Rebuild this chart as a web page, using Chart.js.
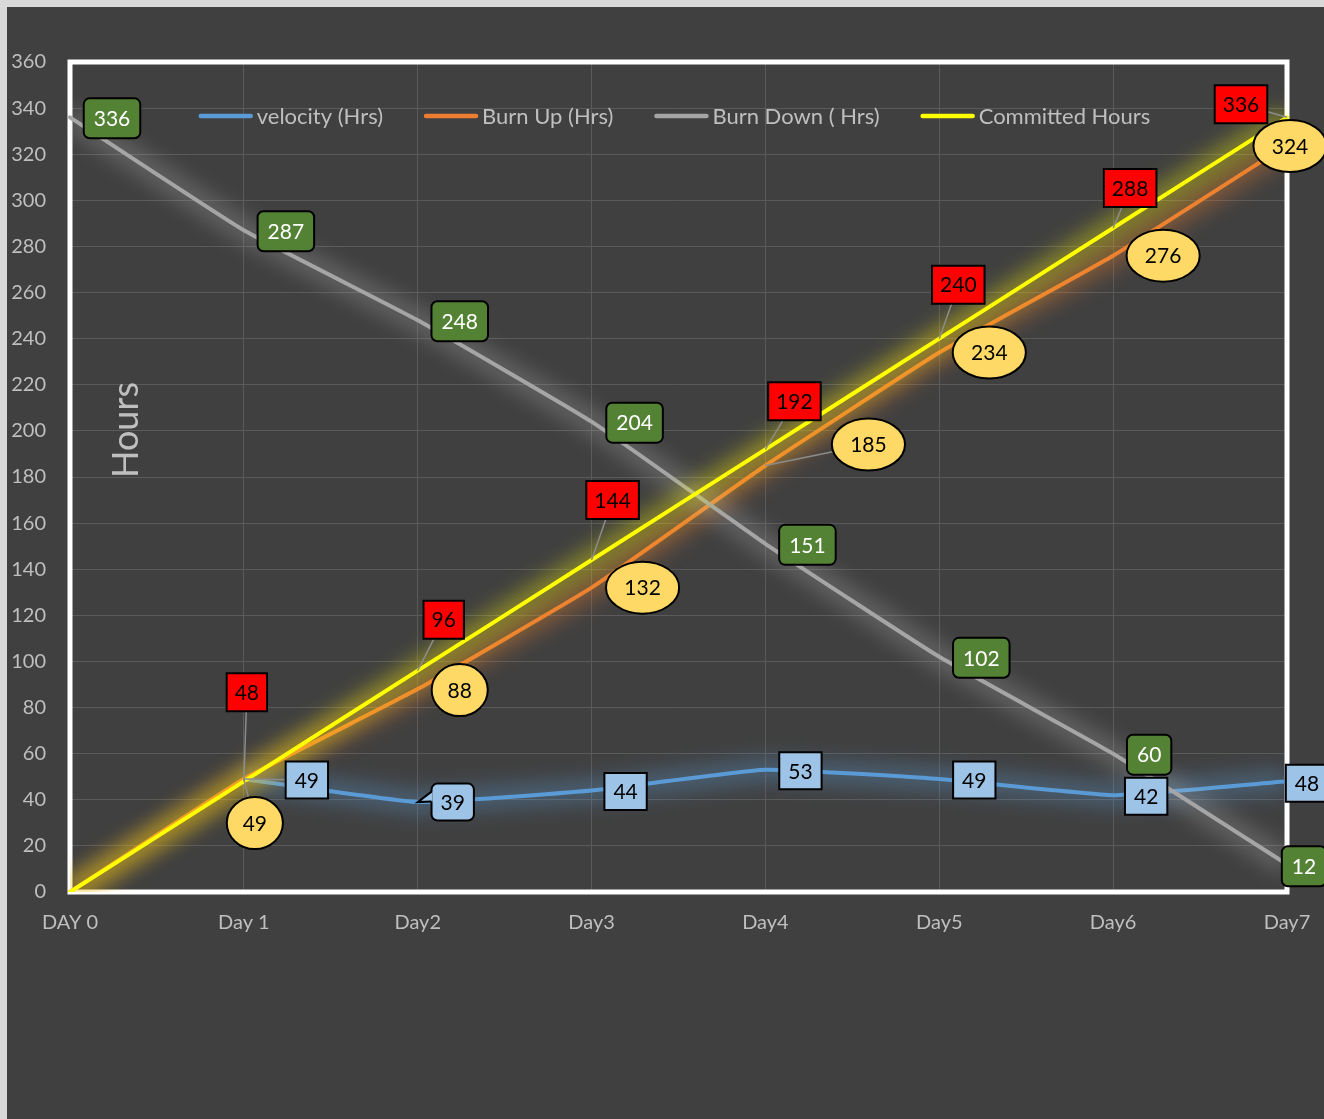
<!DOCTYPE html>
<html lang="en">
<head>
<meta charset="utf-8">
<title>Burn Up / Burn Down</title>
<script src="https://cdn.jsdelivr.net/npm/chart.js@4.4.1/dist/chart.umd.min.js"></script>
<style>
  html, body { margin: 0; padding: 0; background: #d9d9d9; overflow: hidden; }
  #marco { position: absolute; left: 7px; top: 7px; width: 1317px; height: 1112px; background: #404040; }
  canvas { display: block; }
</style>
</head>
<body>
<div id="marco"><canvas id="grafico" width="1317" height="1112"></canvas></div>
<script>
// --- Datos ---
const dias = ["DAY 0", "Day 1", "Day2", "Day3", "Day4", "Day5", "Day6", "Day7"];
const velocidad = [null, 49, 39, 44, 53, 49, 42, 48];
const burnUp = [0, 49, 88, 132, 185, 234, 276, 324];
const burnDown = [336, 287, 248, 204, 151, 102, 60, 12];
const comprometidas = [0, 48, 96, 144, 192, 240, 288, 336];

// Eje Y
const yMin = 0;
const yMax = 360;
const yPaso = 20;

const nombres = ["velocity (Hrs)", "Burn Up (Hrs)", "Burn Down ( Hrs)", "Committed Hours"];

// Desplazamiento de cada etiqueta respecto de su punto (px)
const despVelocidad = [null, [63, 1], [35, 0], [34, 1], [35, 1], [35, 1], [33, 1], [20, 2]];
const despBurnUp = [null, [11, 44], [42, 1], [51, 0], [103, -21], [50, 0], [50, 0], [3, 1]];
const despBurnDown = [[42, 1], [42, 1], [42, 1], [43, 1], [42, 1], [42, 1], [36, 1], [17, 2]];
const despComprometidas = [null, [3, -89], [26, -51], [21, -60], [29, -48], [19, -54], [17, -40], [-46, -13]];

const FUENTE = "Lato, 'Noto Sans', sans-serif";
const GRIS_TEXTO = "#bfbfbf";

// --- Plugins propios ---
const pluginMarco = {
  id: "marco",
  beforeDatasetsDraw(chart) {
    const { ctx, chartArea: a } = chart;
    ctx.save();
    ctx.strokeStyle = "#ffffff";
    ctx.lineWidth = 5;
    ctx.strokeRect(a.left, a.top, a.right - a.left, a.bottom - a.top);

    // Título del eje (va dentro del área)
    ctx.translate(a.left + 56, a.top + 368);
    ctx.rotate(-Math.PI / 2);
    ctx.fillStyle = GRIS_TEXTO;
    ctx.font = "36px " + FUENTE;
    ctx.textAlign = "center";
    ctx.textBaseline = "middle";
    ctx.fillText("Hours", 0, 0);
    ctx.restore();

    // Leyenda
    ctx.save();
    ctx.font = "22px " + FUENTE;
    ctx.textBaseline = "middle";
    const largo = 54, hueco = 4, sep = 41;
    const anchos = chart.data.datasets.map((ds) => ctx.measureText(ds.label).width);
    const total = anchos.reduce((s, w) => s + largo + hueco + w, 0) + sep * (anchos.length - 1);
    let x = (a.left + a.right) / 2 - total / 2 - 4;
    const y = a.top + 54;
    chart.data.datasets.forEach((ds, i) => {
      ctx.strokeStyle = ds.borderColor;
      ctx.lineWidth = 4.5;
      ctx.lineCap = "round";
      ctx.beginPath();
      ctx.moveTo(x + 2, y);
      ctx.lineTo(x + largo - 2, y);
      ctx.stroke();
      ctx.fillStyle = GRIS_TEXTO;
      ctx.fillText(ds.label, x + largo + hueco, y + 1);
      x += largo + hueco + anchos[i] + sep;
    });
    ctx.restore();
  },
};

const pluginBrillo = {
  id: "brillo",
  beforeDatasetDraw(chart, args) {
    const ds = chart.data.datasets[args.index];
    if (!ds.brillo) return;
    const { ctx, chartArea: a } = chart;
    ctx.save();
    ctx.beginPath();
    ctx.rect(a.left, a.top, a.right - a.left, a.bottom - a.top);
    ctx.clip();
    ctx.filter = "blur(10px)";
    ctx.strokeStyle = ds.brillo;
    ctx.lineWidth = 24;
    ctx.lineJoin = "round";
    ctx.beginPath();
    let empezado = false;
    args.meta.data.forEach((p) => {
      if (p.skip) { empezado = false; return; }
      if (!empezado) { ctx.moveTo(p.x, p.y); empezado = true; }
      else ctx.lineTo(p.x, p.y);
    });
    ctx.stroke();
    ctx.restore();
  },
};

function caja(ctx, forma, cx, cy, w, h) {
  ctx.beginPath();
  if (forma === "elipse") {
    ctx.ellipse(cx, cy, w / 2, h / 2, 0, 0, Math.PI * 2);
  } else if (forma === "redondeado") {
    ctx.roundRect(cx - w / 2, cy - h / 2, w, h, 6);
  } else {
    ctx.rect(cx - w / 2, cy - h / 2, w, h);
  }
}

const pluginEtiquetas = {
  id: "etiquetas",
  afterDatasetsDraw(chart) {
    const ctx = chart.ctx;
    chart.data.datasets.forEach((ds, i) => {
      const e = ds.etiqueta;
      if (!e) return;
      const meta = chart.getDatasetMeta(i);
      ds.data.forEach((v, j) => {
        const d = e.desplazamiento[j];
        if (v == null || !d) return;
        const p = meta.data[j];
        const cx = p.x + d[0];
        const cy = p.y + d[1];
        ctx.save();
        ctx.font = "21px " + FUENTE;
        const tw = ctx.measureText(String(v)).width;
        const w = e.forma === "elipse" ? tw * 1.4 + 22 : tw + e.relleno_x;
        const h = e.alto;

        // Línea guía
        if (e.guias.includes(j)) {
          ctx.strokeStyle = "#8c8c8c";
          ctx.lineWidth = 1.5;
          ctx.beginPath();
          ctx.moveTo(p.x, p.y);
          ctx.lineTo(cx, cy);
          ctx.stroke();
        }

        ctx.fillStyle = e.fondo;
        ctx.strokeStyle = "#000000";
        ctx.lineWidth = 2;
        if (e.globo === j) {
          // Globo con pico hacia el punto
          const l = cx - w / 2, t = cy - h / 2;
          ctx.beginPath();
          ctx.roundRect(l, t, w, h, 6);
          ctx.fill();
          ctx.stroke();
          ctx.beginPath();
          ctx.moveTo(l + 1, t + 8);
          ctx.lineTo(p.x, p.y);
          ctx.lineTo(l + 1, t + 18);
          ctx.closePath();
          ctx.fill();
          ctx.beginPath();
          ctx.moveTo(l, t + 8);
          ctx.lineTo(p.x, p.y);
          ctx.lineTo(l, t + 18);
          ctx.stroke();
        } else {
          caja(ctx, e.forma, cx, cy, w, h);
          ctx.fill();
          ctx.stroke();
        }

        ctx.fillStyle = e.color;
        ctx.textAlign = "center";
        ctx.textBaseline = "middle";
        ctx.fillText(String(v), cx, cy + 1);
        ctx.restore();
      });
    });
  },
};

Chart.defaults.font.family = FUENTE;

new Chart(document.getElementById("grafico"), {
  type: "line",
  data: {
    labels: dias,
    datasets: [
      {
        label: nombres[0],
        data: velocidad,
        borderColor: "#5b9bd5",
        brillo: "rgba(91,155,213,0.35)",
        order: 4,
        etiqueta: { forma: "rect", fondo: "#9dc3e6", color: "#000", relleno_x: 18, alto: 37,
                    desplazamiento: despVelocidad, guias: [1], globo: 2 },
      },
      {
        label: nombres[1],
        data: burnUp,
        borderColor: "#ed7d31",
        brillo: "rgba(237,125,49,0.35)",
        order: 3,
        etiqueta: { forma: "elipse", fondo: "#ffd966", color: "#000", alto: 52,
                    desplazamiento: despBurnUp, guias: [1, 4] },
      },
      {
        label: nombres[2],
        data: burnDown,
        borderColor: "#a5a5a5",
        brillo: "rgba(200,200,200,0.25)",
        order: 2,
        etiqueta: { forma: "redondeado", fondo: "#548235", color: "#fff", relleno_x: 20, alto: 40,
                    desplazamiento: despBurnDown, guias: [] },
      },
      {
        label: nombres[3],
        data: comprometidas,
        borderColor: "#ffff00",
        brillo: "rgba(255,255,0,0.35)",
        order: 1,
        etiqueta: { forma: "rect", fondo: "#ff0000", color: "#000", relleno_x: 16, alto: 38,
                    desplazamiento: despComprometidas, guias: [1, 2, 3, 4, 5, 6, 7] },
      },
    ],
  },
  options: {
    responsive: false,
    animation: false,
    layout: { padding: { top: 55, right: 37, bottom: 167, left: 0 } },
    elements: {
      line: { borderWidth: 4, tension: 0.12, borderCapStyle: "round", borderJoinStyle: "round" },
      point: { radius: 0, hoverRadius: 0 },
    },
    plugins: {
      legend: { display: false },
      tooltip: { enabled: false },
    },
    scales: {
      x: {
        offset: false,
        grid: { color: "#5a5a5a", lineWidth: 1, drawTicks: false },
        border: { display: false },
        ticks: { color: GRIS_TEXTO, font: { size: 20 }, padding: 19, autoSkip: false, maxRotation: 0 },
        afterFit: (s) => { s.height = 60; s.paddingLeft = 0; s.paddingRight = 0; },
      },
      y: {
        min: yMin,
        max: yMax,
        grid: { color: "#5a5a5a", lineWidth: 1, drawTicks: false },
        border: { display: false },
        ticks: { stepSize: yPaso, color: GRIS_TEXTO, font: { size: 20 }, padding: 24 },
        afterFit: (s) => { s.width = 63; },
      },
    },
  },
  plugins: [pluginMarco, pluginBrillo, pluginEtiquetas],
});
</script>
</body>
</html>
